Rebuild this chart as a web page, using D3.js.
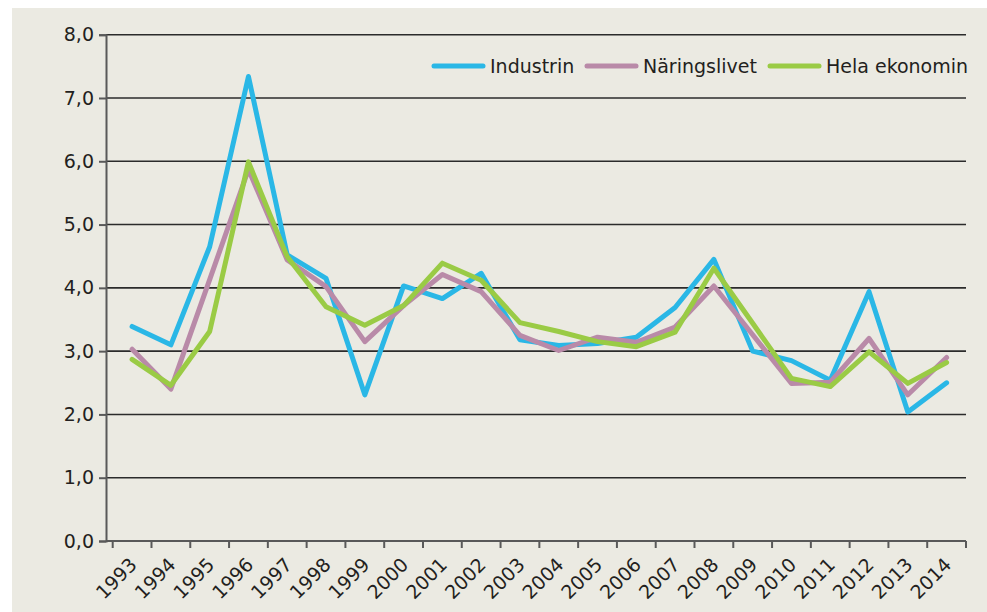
<!DOCTYPE html>
<html>
<head>
<meta charset="utf-8">
<script src="https://cdn.jsdelivr.net/npm/d3@7"></script>
<style>
  html, body { margin: 0; padding: 0; background: #ffffff; }
  svg { display: block; }
  text { font-family: "DejaVu Sans", sans-serif; fill: #231f20; }
</style>
</head>
<body>
<svg id="chart" width="987" height="612"></svg>
<script>
const years = ["1993","1994","1995","1996","1997","1998","1999","2000","2001","2002","2003","2004","2005","2006","2007","2008","2009","2010","2011","2012","2013","2014"];
const industrin   = [3.39,3.10,4.65,7.34,4.52,4.15,2.31,4.03,3.83,4.23,3.18,3.09,3.12,3.22,3.69,4.45,3.00,2.85,2.54,3.94,2.04,2.50];
const naringslivet = [3.03,2.40,4.13,5.87,4.44,4.02,3.15,3.72,4.21,3.94,3.25,3.01,3.22,3.14,3.38,4.03,3.26,2.49,2.51,3.20,2.31,2.90];
const helaEkonomin = [2.87,2.46,3.31,5.99,4.49,3.70,3.41,3.72,4.39,4.12,3.45,3.31,3.15,3.07,3.30,4.31,3.44,2.57,2.44,2.99,2.49,2.82];
const yTicks = [0,1,2,3,4,5,6,7,8];
const seriesNames = ["Industrin","Näringslivet","Hela ekonomin"];
const seriesColors = ["#2ab7e6","#b98aa8","#9acb45"];

const svg = d3.select("#chart");
svg.append("rect").attr("x",12).attr("y",8).attr("width",975).attr("height",604).attr("fill","#ebeae2");

const axisLeftX = 106, plotRight = 966, plotTop = 34.7, plotBottom = 541;
const x = d3.scaleBand().domain(years).range([112.7, plotRight]);
const y = d3.scaleLinear().domain([0,8]).range([plotBottom, plotTop]);
const fmt = v => d3.format(".1f")(v).replace(".", ",");

// gridlines
svg.append("g").selectAll("line").data(yTicks.filter(d => d > 0)).join("line")
  .attr("x1", axisLeftX).attr("x2", plotRight)
  .attr("y1", d => y(d)).attr("y2", d => y(d))
  .attr("stroke", "#2b2b2b").attr("stroke-width", 1.6);

// y axis
const yAxis = svg.append("g").attr("transform", `translate(${axisLeftX},0)`)
  .call(d3.axisLeft(y).tickValues(yTicks).tickFormat(fmt).tickSize(7).tickPadding(5));
yAxis.select(".domain").attr("stroke", "#595959").attr("stroke-width", 2);
yAxis.selectAll(".tick line").attr("stroke", "#595959").attr("stroke-width", 2);
yAxis.selectAll(".tick text").style("font-family", "DejaVu Sans").style("font-size", "19px").attr("fill", "#231f20");

// x axis
const xAxisG = svg.append("g");
xAxisG.append("line").attr("x1", axisLeftX).attr("x2", plotRight)
  .attr("y1", plotBottom).attr("y2", plotBottom)
  .attr("stroke", "#595959").attr("stroke-width", 2);
const boundaries = years.map(yr => x(yr)).concat([x(years[years.length-1]) + x.bandwidth()]);
xAxisG.selectAll("line.tk").data(boundaries).join("line").attr("class","tk")
  .attr("x1", d => d).attr("x2", d => d)
  .attr("y1", plotBottom).attr("y2", plotBottom + 7)
  .attr("stroke", "#595959").attr("stroke-width", 2);
xAxisG.selectAll("text").data(years).join("text")
  .attr("transform", d => `translate(${x(d) + x.bandwidth()/2 + 6},566) rotate(-45)`)
  .attr("text-anchor", "end")
  .style("font-size", "19px")
  .text(d => d);

// lines
const allSeries = [industrin, naringslivet, helaEkonomin];
const line = d3.line().x((d,i) => x(years[i]) + x.bandwidth()/2).y(d => y(d));
svg.append("g").selectAll("path").data(allSeries).join("path")
  .attr("d", d => line(d))
  .attr("fill", "none")
  .attr("stroke", (d,i) => seriesColors[i])
  .attr("stroke-width", 5)
  .attr("stroke-linejoin", "round")
  .attr("stroke-linecap", "round");

// legend
const legendX = [434, 587, 770];
const lg = svg.append("g");
seriesNames.forEach((name, i) => {
  lg.append("line").attr("x1", legendX[i]).attr("x2", legendX[i] + 49)
    .attr("y1", 66).attr("y2", 66)
    .attr("stroke", seriesColors[i]).attr("stroke-width", 5).attr("stroke-linecap", "round");
  lg.append("text").attr("x", legendX[i] + 56).attr("y", 73)
    .style("font-size", "19px").text(name);
});
</script>
</body>
</html>
